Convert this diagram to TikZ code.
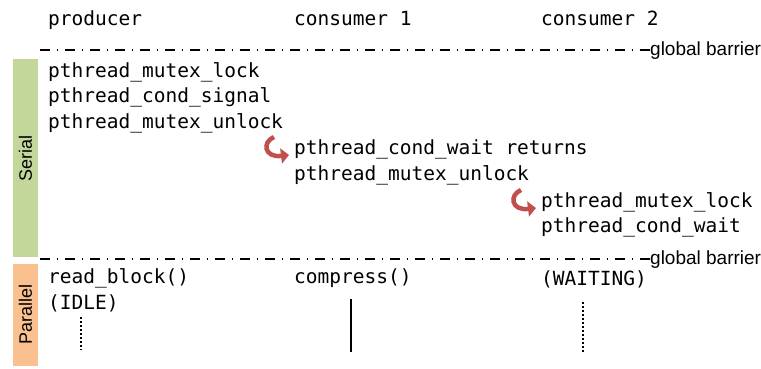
\documentclass[tikz,border=0pt]{standalone}
\usepackage{fontspec}
\setmainfont{Liberation Sans}
\setmonofont{DejaVu Sans Mono}
\usetikzlibrary{arrows.meta}
\definecolor{serialgreen}{RGB}{196,215,155}
\definecolor{parallelorange}{RGB}{250,192,143}
\definecolor{wakered}{RGB}{192,80,77}
\tikzset{>=stealth}
\tikzset{
  code/.style={anchor=base west, inner sep=0pt, font=\ttfamily\fontsize{19.5}{24}\selectfont},
  barrier/.style={line width=1.1pt, dash pattern=on 10pt off 6.75pt on 1.5pt off 6.75pt},
  barrierlabel/.style={anchor=west, inner sep=0pt, font=\fontsize{19}{20}\selectfont},
  phase/.style={rotate=90, inner sep=0pt, font=\fontsize{18}{20}\selectfont},
  wake/.style={draw=wakered, line width=4.5pt, -{Triangle[length=8pt,width=15pt]}},
  idle/.style={line width=2pt, dash pattern=on 2pt off 2pt},
  busy/.style={line width=2pt}
}

\begin{document}
\begin{tikzpicture}[x=1pt, y=-1pt]
\useasboundingbox (0,0) rectangle (761,368);

% phase bars
\fill[serialgreen] (13,59) rectangle (38,257);
\fill[parallelorange] (13,264) rectangle (38,366);
\node[phase] (serial) at (25.5,158) {Serial};
\node[phase] (parallel) at (25.5,314) {Parallel};

% thread headers
\node[code] (prod) at (48,25) {producer};
\node[code] (cons1) at (294,25) {consumer 1};
\node[code] (cons2) at (541,25) {consumer 2};

% barriers
\node[barrierlabel] (bar1) at (650,51) {global barrier};
\node[barrierlabel] (bar2) at (650,260) {global barrier};
\coordinate (b1) at (40,50);
\coordinate (b2) at (40,259);
\draw[barrier] (b1) -- (bar1.west |- b1);
\draw[barrier] (b2) -- (bar2.west |- b2);

% serial part
\node[code] (plock) at (48,77) {pthread\_mutex\_lock};
\node[code] (psignal) at (48,102.5) {pthread\_cond\_signal};
\node[code] (punlock) at (48,128) {pthread\_mutex\_unlock};
\node[code] (cwait) at (294,154) {pthread\_cond\_wait returns};
\node[code] (cunlock) at (294,180) {pthread\_mutex\_unlock};
\node[code] (clock) at (541,207) {pthread\_mutex\_lock};
\node[code] (cwait2) at (541,232) {pthread\_cond\_wait};

\coordinate (w1) at (274,137);
\coordinate (w2) at (521,190);
\draw[wake] (w1) .. controls (262,142) and (264,158) .. ([xshift=-5pt,yshift=-1pt]cwait.base west);
\draw[wake] (w2) .. controls (509,195) and (511,211) .. ([xshift=-5pt,yshift=-1pt]clock.base west);

% parallel part
\node[code] (read) at (48,283) {read\_block()};
\node[code] (pidle) at (48,309) {(IDLE)};
\node[code] (comp) at (294,283) {compress()};
\node[code] (cwaiting) at (541,285) {(WAITING)};

\coordinate (p1) at (81,317);
\coordinate (p2) at (81,350);
\coordinate (c1) at (351,299);
\coordinate (c2) at (351,352);
\coordinate (d1) at (583,302);
\coordinate (d2) at (583,352);
\draw[idle] (p1) -- (p2);
\draw[busy] (c1) -- (c2);
\draw[idle] (d1) -- (d2);
\end{tikzpicture}
\end{document}
